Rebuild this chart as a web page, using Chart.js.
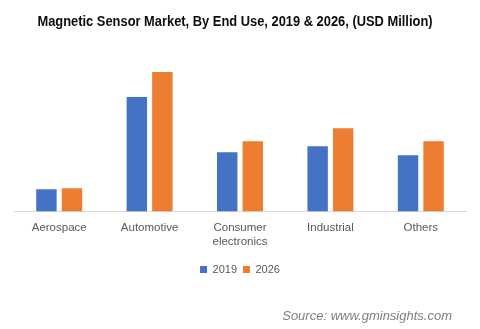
<!DOCTYPE html>
<html>
<head>
<meta charset="utf-8">
<script src="https://cdn.jsdelivr.net/npm/chart.js@4.4.1/dist/chart.umd.min.js"></script>
<style>
  html, body { margin: 0; padding: 0; background: #ffffff; }
  #wrap { position: relative; width: 480px; height: 329px; overflow: hidden; }
  #chart { position: absolute; left: 0; top: 0; }
  #title {
    position: absolute; left: 0; top: 13px; width: 470px;
    text-align: center; font: bold 14px "Liberation Sans", Arial, sans-serif;
    color: #0d0d0d; white-space: nowrap;
    transform: scaleX(0.92); transform-origin: 235px 0;
  }
  #source {
    position: absolute; right: 28px; top: 309px;
    font: italic 13px "Liberation Sans", Arial, sans-serif;
    line-height: 13px; color: #7f7f7f; white-space: nowrap;
  }
</style>
</head>
<body>
<div id="wrap">
  <canvas id="chart" width="480" height="329"></canvas>
  <div id="title">Magnetic Sensor Market, By End Use, 2019 &amp; 2026, (USD Million)</div>
  <div id="source">Source: www.gminsights.com</div>
</div>
<script>
// End-use segments and market size per year (USD million)
const categories = ["Aerospace", "Automotive", ["Consumer", "electronics"], "Industrial", "Others"];
const seriesNames = ["2019", "2026"];
const values2019 = [220, 1140, 590, 650, 560];
const values2026 = [230, 1390, 700, 830, 700];
const seriesColors = ["#4472C4", "#ED7D31"];

new Chart(document.getElementById("chart"), {
  type: "bar",
  data: {
    labels: categories,
    datasets: [
      { label: seriesNames[0], data: values2019, backgroundColor: seriesColors[0] },
      { label: seriesNames[1], data: values2026, backgroundColor: seriesColors[1] }
    ]
  },
  options: {
    responsive: false,
    animation: false,
    devicePixelRatio: 1,
    layout: { padding: { top: 51, left: 14, right: 14, bottom: 44 } },
    datasets: { bar: { categoryPercentage: 0.565, barPercentage: 0.8 } },
    scales: {
      x: {
        grid: { display: false, drawTicks: false },
        border: { display: true, color: "#d9d9d9", width: 1 },
        ticks: {
          padding: 10,
          maxRotation: 0,
          autoSkip: false,
          color: "#595959",
          font: { family: "Liberation Sans", size: 11.5, lineHeight: 1.2 }
        },
        // keep the legend close under the two-line category labels
        afterFit: (scale) => { scale.height -= 1; }
      },
      y: { display: false, min: 0, max: 1600 }
    },
    plugins: {
      title: { display: false },
      tooltip: { enabled: false },
      legend: {
        position: "bottom",
        labels: {
          boxWidth: 7,
          boxHeight: 7,
          padding: 6,
          color: "#595959",
          font: { family: "Liberation Sans", size: 11 }
        }
      }
    }
  }
});
</script>
</body>
</html>
